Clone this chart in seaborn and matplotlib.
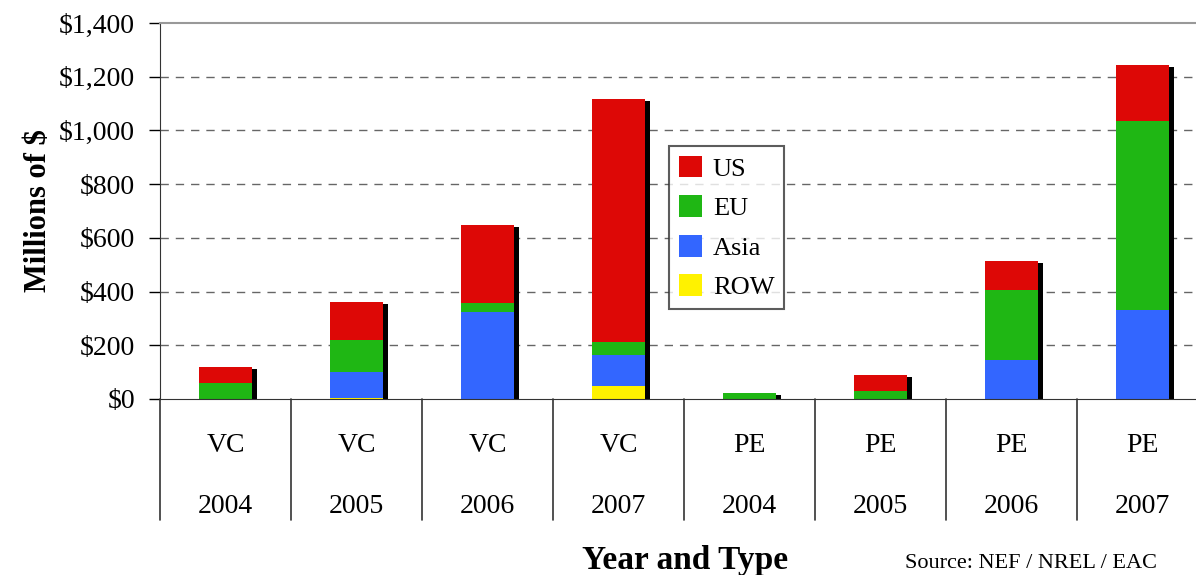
import matplotlib
matplotlib.use("Agg")
import matplotlib.pyplot as plt
import matplotlib.patches as mpatches
import matplotlib.transforms as mtransforms
import numpy as np
import pandas as pd
import seaborn as sns

# data (millions of $)
types = ["VC", "VC", "VC", "VC", "PE", "PE", "PE", "PE"]
years = ["2004", "2005", "2006", "2007", "2004", "2005", "2006", "2007"]
row = [0, 4, 0, 48, 0, 0, 0, 0]
asia = [0, 98, 325, 116, 0, 0, 146, 332]
eu = [60, 118, 32, 48, 22, 30, 260, 703]
us = [59, 141, 291, 905, 0, 59, 108, 208]
y_ticks = [0, 200, 400, 600, 800, 1000, 1200, 1400]

colors = {"US": "#DD0806", "EU": "#1FB714", "Asia": "#3366FF", "ROW": "#FFF200"}

sns.set_style("white")
plt.rcParams["font.family"] = ["Liberation Serif", "DejaVu Serif"]
plt.rcParams["text.color"] = "black"
plt.rcParams["axes.labelcolor"] = "black"
plt.rcParams["ytick.color"] = "black"

df = pd.DataFrame({
    "cat": [f"{t} {y}" for t, y in zip(types, years)],
    "ROW": row, "Asia": asia, "EU": eu, "US": us,
})
# cumulative heights for stacking
df["c_ROW"] = df["ROW"]
df["c_Asia"] = df["c_ROW"] + df["Asia"]
df["c_EU"] = df["c_Asia"] + df["EU"]
df["c_US"] = df["c_EU"] + df["US"]

fig = plt.figure(figsize=(11.96, 5.75), dpi=100)
ax = fig.add_axes([0.1338, 0.3061, 0.8763, 0.6539])

bw = 0.405
x = np.arange(len(df))
# drop shadow behind each stack
tot = df["c_US"].to_numpy()
ax.bar(x + 0.038, np.where(tot > 0, tot - 7, 0), width=bw, color="black",
       linewidth=0, zorder=1)

for name in ["US", "EU", "Asia", "ROW"]:
    sns.barplot(data=df, x="cat", y=f"c_{name}", color=colors[name],
                width=bw, saturation=1, linewidth=0, edgecolor="none",
                ax=ax, zorder=2)

ax.set_xlim(-0.5, 7.5)
ax.set_ylim(0, 1400)
ax.set_yticks(y_ticks)
ax.set_yticklabels([f"${v:,}" for v in y_ticks], fontsize=20)
ax.tick_params(axis="y", direction="out", length=8, width=1, color="black",
               left=True, pad=10)
ax.set_xticks([])
ax.set_xlabel("")
ax.set_ylabel("Millions of $", fontsize=22, fontweight="bold", labelpad=4)

for v in y_ticks[1:-1]:
    ax.axhline(v, color="#666666", lw=1, ls=(0, (6, 5)), zorder=0)

ax.spines["top"].set_color("#999999")
ax.spines["top"].set_linewidth(1.5)
ax.spines["right"].set_visible(False)
ax.spines["left"].set_color("#333333")
ax.spines["bottom"].set_color("#333333")

# two-row category axis below the plot
trans = mtransforms.blended_transform_factory(ax.transData, ax.transAxes)
for b in np.arange(-0.5, 8.0, 1.0):
    ax.plot([b, b], [0, -0.322], color="#333333", lw=1.2, transform=trans,
            clip_on=False)
for i in x:
    ax.text(i, -0.124, types[i], transform=trans, ha="center", va="center",
            fontsize=20)
    ax.text(i, -0.286, years[i], transform=trans, ha="center", va="center",
            fontsize=20)

fig.text(0.573, 0.026, "Year and Type", ha="center", va="center",
         fontsize=24, fontweight="bold")
fig.text(0.757, 0.004, "Source: NEF / NREL / EAC", ha="left", va="bottom",
         fontsize=16)

handles = [mpatches.Patch(color=colors[k], label=k, linewidth=0)
           for k in ["US", "EU", "Asia", "ROW"]]
leg = ax.legend(handles=handles, loc="upper left",
                bbox_to_anchor=(0.486, 0.672), fontsize=19, frameon=True,
                fancybox=False, edgecolor="#333333", labelspacing=0.55,
                handlelength=0.9, handleheight=0.9, handletextpad=0.4,
                borderpad=0.35, borderaxespad=0)
leg.get_frame().set_linewidth(1.5)

fig.savefig("out.png", dpi=100)
